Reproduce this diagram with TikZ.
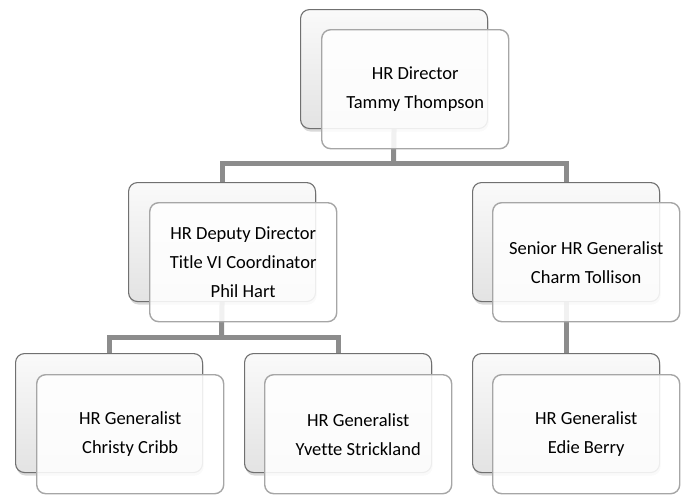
\documentclass[tikz,border=0pt]{standalone}
\usepackage{fontspec}
\setmainfont{Carlito}[Ligatures=NoCommon]
\usetikzlibrary{shadows,backgrounds}
\definecolor{backline}{HTML}{707070}
\definecolor{frontline}{HTML}{A6A6A6}
\definecolor{connline}{HTML}{8C8C8C}
\tikzset{
  backbox/.style={draw=backline, line width=1.1pt, rounded corners=9pt,
    top color=gray!4, bottom color=gray!22, minimum width=187pt, minimum height=119pt,
    inner sep=0pt, anchor=north west,
    drop shadow={opacity=0.3, shadow xshift=1pt, shadow yshift=-3pt}},
  frontbox/.style={draw=frontline, line width=1.4pt, rounded corners=9pt,
    fill=white, fill opacity=0.88, text opacity=1, minimum width=187pt, minimum height=119pt,
    inner sep=0pt, anchor=north west, align=center,
    font=\fontsize{18.5}{29}\selectfont},
  conn/.style={draw=connline, line width=5pt},
}
\begin{document}
\begin{tikzpicture}[x=1pt,y=-1pt]
\useasboundingbox (0,0) rectangle (681,498);
\coordinate (bus1) at (393.5,163);
\coordinate (bus2) at (221.5,337);
% back boxes
\node[backbox] (dirb) at (300,9) {};
\node[backbox] (depb) at (128,182) {};
\node[backbox] (srb) at (472,182) {};
\node[backbox] (g1b) at (15,353) {};
\node[backbox] (g2b) at (244,353) {};
\node[backbox] (g3b) at (472,353) {};
% front boxes
\node[frontbox] (dir) at ([shift={(21,20)}]dirb.north west) {HR Director\\Tammy Thompson};
\node[frontbox] (dep) at ([shift={(21,20)}]depb.north west) {HR Deputy Director\\Title VI Coordinator\\Phil Hart};
\node[frontbox] (sr) at ([shift={(20,20)}]srb.north west) {Senior HR Generalist\\Charm Tollison};
\node[frontbox] (g1) at ([shift={(21,21)}]g1b.north west) {HR Generalist\\Christy Cribb};
\node[frontbox] (g2) at ([shift={(20,21)}]g2b.north west) {HR Generalist\\Yvette Strickland};
\node[frontbox] (g3) at ([shift={(20,21)}]g3b.north west) {HR Generalist\\Edie Berry};
% connectors behind the boxes
\begin{scope}[on background layer]
\draw[conn] (dirb.south) -- (bus1);
\draw[conn] (depb.north) |- (bus1) -| (srb.north);
\draw[conn] (depb.south) -- (bus2);
\draw[conn] (g1b.north) |- (bus2) -| (g2b.north);
\draw[conn] (srb.south) -- (g3b.north);
\end{scope}
\end{tikzpicture}
\end{document}
